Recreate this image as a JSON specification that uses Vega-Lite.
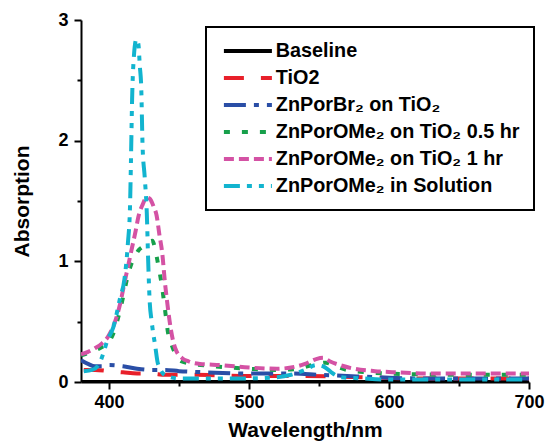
{
  "$schema": "https://vega.github.io/schema/vega-lite/v6.json",
  "width": 448,
  "height": 362,
  "autosize": {"type": "none"},
  "padding": {"left": 81, "top": 20, "right": 17, "bottom": 66},
  "background": "white",
  "config": {
    "font": "Liberation Sans",
    "view": {"stroke": null},
    "axis": {
      "domainColor": "black",
      "domainWidth": 2,
      "tickColor": "black",
      "tickWidth": 2,
      "labelFont": "Liberation Sans",
      "labelFontWeight": "bold",
      "labelFontSize": 18,
      "labelColor": "black",
      "titleFont": "Liberation Sans",
      "titleFontWeight": "bold",
      "titleFontSize": 21,
      "titleColor": "black",
      "grid": false
    }
  },
  "data": {
    "values": [
      {"s": "Baseline", "x": 380, "y": 0},
      {"s": "Baseline", "x": 700, "y": 0},

      {"s": "TiO2", "x": 382, "y": 0.10},
      {"s": "TiO2", "x": 390, "y": 0.10},
      {"s": "TiO2", "x": 400, "y": 0.09},
      {"s": "TiO2", "x": 410, "y": 0.08},
      {"s": "TiO2", "x": 420, "y": 0.07},
      {"s": "TiO2", "x": 430, "y": 0.07},
      {"s": "TiO2", "x": 440, "y": 0.06},
      {"s": "TiO2", "x": 460, "y": 0.06},
      {"s": "TiO2", "x": 500, "y": 0.05},
      {"s": "TiO2", "x": 540, "y": 0.05},
      {"s": "TiO2", "x": 580, "y": 0.04},
      {"s": "TiO2", "x": 620, "y": 0.03},
      {"s": "TiO2", "x": 660, "y": 0.03},
      {"s": "TiO2", "x": 700, "y": 0.03},

      {"s": "ZnPorBr₂ on TiO₂", "x": 380, "y": 0.18},
      {"s": "ZnPorBr₂ on TiO₂", "x": 385, "y": 0.15},
      {"s": "ZnPorBr₂ on TiO₂", "x": 390, "y": 0.13},
      {"s": "ZnPorBr₂ on TiO₂", "x": 395, "y": 0.13},
      {"s": "ZnPorBr₂ on TiO₂", "x": 400, "y": 0.14},
      {"s": "ZnPorBr₂ on TiO₂", "x": 410, "y": 0.13},
      {"s": "ZnPorBr₂ on TiO₂", "x": 420, "y": 0.11},
      {"s": "ZnPorBr₂ on TiO₂", "x": 430, "y": 0.10},
      {"s": "ZnPorBr₂ on TiO₂", "x": 440, "y": 0.10},
      {"s": "ZnPorBr₂ on TiO₂", "x": 450, "y": 0.09},
      {"s": "ZnPorBr₂ on TiO₂", "x": 470, "y": 0.08},
      {"s": "ZnPorBr₂ on TiO₂", "x": 500, "y": 0.07},
      {"s": "ZnPorBr₂ on TiO₂", "x": 530, "y": 0.07},
      {"s": "ZnPorBr₂ on TiO₂", "x": 550, "y": 0.06},
      {"s": "ZnPorBr₂ on TiO₂", "x": 570, "y": 0.05},
      {"s": "ZnPorBr₂ on TiO₂", "x": 590, "y": 0.04},
      {"s": "ZnPorBr₂ on TiO₂", "x": 620, "y": 0.03},
      {"s": "ZnPorBr₂ on TiO₂", "x": 660, "y": 0.03},
      {"s": "ZnPorBr₂ on TiO₂", "x": 700, "y": 0.03},

      {"s": "ZnPorOMe₂ on TiO₂ 0.5 hr", "x": 380, "y": 0.22},
      {"s": "ZnPorOMe₂ on TiO₂ 0.5 hr", "x": 385, "y": 0.24},
      {"s": "ZnPorOMe₂ on TiO₂ 0.5 hr", "x": 390, "y": 0.26},
      {"s": "ZnPorOMe₂ on TiO₂ 0.5 hr", "x": 395, "y": 0.29},
      {"s": "ZnPorOMe₂ on TiO₂ 0.5 hr", "x": 399, "y": 0.32},
      {"s": "ZnPorOMe₂ on TiO₂ 0.5 hr", "x": 403, "y": 0.40},
      {"s": "ZnPorOMe₂ on TiO₂ 0.5 hr", "x": 406, "y": 0.51},
      {"s": "ZnPorOMe₂ on TiO₂ 0.5 hr", "x": 410, "y": 0.70},
      {"s": "ZnPorOMe₂ on TiO₂ 0.5 hr", "x": 413, "y": 0.86},
      {"s": "ZnPorOMe₂ on TiO₂ 0.5 hr", "x": 416, "y": 0.98},
      {"s": "ZnPorOMe₂ on TiO₂ 0.5 hr", "x": 419, "y": 1.05},
      {"s": "ZnPorOMe₂ on TiO₂ 0.5 hr", "x": 421, "y": 1.09},
      {"s": "ZnPorOMe₂ on TiO₂ 0.5 hr", "x": 424, "y": 1.12},
      {"s": "ZnPorOMe₂ on TiO₂ 0.5 hr", "x": 428, "y": 1.16},
      {"s": "ZnPorOMe₂ on TiO₂ 0.5 hr", "x": 431, "y": 1.17},
      {"s": "ZnPorOMe₂ on TiO₂ 0.5 hr", "x": 433, "y": 1.10},
      {"s": "ZnPorOMe₂ on TiO₂ 0.5 hr", "x": 435, "y": 0.98},
      {"s": "ZnPorOMe₂ on TiO₂ 0.5 hr", "x": 438, "y": 0.78},
      {"s": "ZnPorOMe₂ on TiO₂ 0.5 hr", "x": 440, "y": 0.60},
      {"s": "ZnPorOMe₂ on TiO₂ 0.5 hr", "x": 442, "y": 0.42},
      {"s": "ZnPorOMe₂ on TiO₂ 0.5 hr", "x": 445, "y": 0.30},
      {"s": "ZnPorOMe₂ on TiO₂ 0.5 hr", "x": 448, "y": 0.22},
      {"s": "ZnPorOMe₂ on TiO₂ 0.5 hr", "x": 452, "y": 0.17},
      {"s": "ZnPorOMe₂ on TiO₂ 0.5 hr", "x": 460, "y": 0.15},
      {"s": "ZnPorOMe₂ on TiO₂ 0.5 hr", "x": 475, "y": 0.13},
      {"s": "ZnPorOMe₂ on TiO₂ 0.5 hr", "x": 500, "y": 0.11},
      {"s": "ZnPorOMe₂ on TiO₂ 0.5 hr", "x": 520, "y": 0.10},
      {"s": "ZnPorOMe₂ on TiO₂ 0.5 hr", "x": 535, "y": 0.11},
      {"s": "ZnPorOMe₂ on TiO₂ 0.5 hr", "x": 545, "y": 0.14},
      {"s": "ZnPorOMe₂ on TiO₂ 0.5 hr", "x": 555, "y": 0.16},
      {"s": "ZnPorOMe₂ on TiO₂ 0.5 hr", "x": 562, "y": 0.13},
      {"s": "ZnPorOMe₂ on TiO₂ 0.5 hr", "x": 570, "y": 0.10},
      {"s": "ZnPorOMe₂ on TiO₂ 0.5 hr", "x": 585, "y": 0.08},
      {"s": "ZnPorOMe₂ on TiO₂ 0.5 hr", "x": 600, "y": 0.07},
      {"s": "ZnPorOMe₂ on TiO₂ 0.5 hr", "x": 650, "y": 0.06},
      {"s": "ZnPorOMe₂ on TiO₂ 0.5 hr", "x": 700, "y": 0.06},

      {"s": "ZnPorOMe₂ on TiO₂ 1 hr", "x": 380, "y": 0.23},
      {"s": "ZnPorOMe₂ on TiO₂ 1 hr", "x": 385, "y": 0.25},
      {"s": "ZnPorOMe₂ on TiO₂ 1 hr", "x": 390, "y": 0.28},
      {"s": "ZnPorOMe₂ on TiO₂ 1 hr", "x": 395, "y": 0.32},
      {"s": "ZnPorOMe₂ on TiO₂ 1 hr", "x": 399, "y": 0.37},
      {"s": "ZnPorOMe₂ on TiO₂ 1 hr", "x": 404, "y": 0.49},
      {"s": "ZnPorOMe₂ on TiO₂ 1 hr", "x": 408, "y": 0.65},
      {"s": "ZnPorOMe₂ on TiO₂ 1 hr", "x": 411, "y": 0.82},
      {"s": "ZnPorOMe₂ on TiO₂ 1 hr", "x": 414, "y": 0.98},
      {"s": "ZnPorOMe₂ on TiO₂ 1 hr", "x": 416, "y": 1.09},
      {"s": "ZnPorOMe₂ on TiO₂ 1 hr", "x": 419, "y": 1.25},
      {"s": "ZnPorOMe₂ on TiO₂ 1 hr", "x": 421, "y": 1.37},
      {"s": "ZnPorOMe₂ on TiO₂ 1 hr", "x": 424, "y": 1.47},
      {"s": "ZnPorOMe₂ on TiO₂ 1 hr", "x": 427, "y": 1.53},
      {"s": "ZnPorOMe₂ on TiO₂ 1 hr", "x": 429, "y": 1.52},
      {"s": "ZnPorOMe₂ on TiO₂ 1 hr", "x": 432, "y": 1.45},
      {"s": "ZnPorOMe₂ on TiO₂ 1 hr", "x": 434, "y": 1.38},
      {"s": "ZnPorOMe₂ on TiO₂ 1 hr", "x": 436, "y": 1.22},
      {"s": "ZnPorOMe₂ on TiO₂ 1 hr", "x": 438, "y": 1.07},
      {"s": "ZnPorOMe₂ on TiO₂ 1 hr", "x": 440, "y": 0.82},
      {"s": "ZnPorOMe₂ on TiO₂ 1 hr", "x": 442, "y": 0.62},
      {"s": "ZnPorOMe₂ on TiO₂ 1 hr", "x": 444, "y": 0.45},
      {"s": "ZnPorOMe₂ on TiO₂ 1 hr", "x": 446, "y": 0.33},
      {"s": "ZnPorOMe₂ on TiO₂ 1 hr", "x": 448, "y": 0.26},
      {"s": "ZnPorOMe₂ on TiO₂ 1 hr", "x": 452, "y": 0.20},
      {"s": "ZnPorOMe₂ on TiO₂ 1 hr", "x": 457, "y": 0.17},
      {"s": "ZnPorOMe₂ on TiO₂ 1 hr", "x": 465, "y": 0.15},
      {"s": "ZnPorOMe₂ on TiO₂ 1 hr", "x": 480, "y": 0.14},
      {"s": "ZnPorOMe₂ on TiO₂ 1 hr", "x": 500, "y": 0.12},
      {"s": "ZnPorOMe₂ on TiO₂ 1 hr", "x": 520, "y": 0.11},
      {"s": "ZnPorOMe₂ on TiO₂ 1 hr", "x": 530, "y": 0.12},
      {"s": "ZnPorOMe₂ on TiO₂ 1 hr", "x": 540, "y": 0.15},
      {"s": "ZnPorOMe₂ on TiO₂ 1 hr", "x": 548, "y": 0.19},
      {"s": "ZnPorOMe₂ on TiO₂ 1 hr", "x": 553, "y": 0.20},
      {"s": "ZnPorOMe₂ on TiO₂ 1 hr", "x": 558, "y": 0.17},
      {"s": "ZnPorOMe₂ on TiO₂ 1 hr", "x": 565, "y": 0.14},
      {"s": "ZnPorOMe₂ on TiO₂ 1 hr", "x": 575, "y": 0.11},
      {"s": "ZnPorOMe₂ on TiO₂ 1 hr", "x": 590, "y": 0.09},
      {"s": "ZnPorOMe₂ on TiO₂ 1 hr", "x": 605, "y": 0.08},
      {"s": "ZnPorOMe₂ on TiO₂ 1 hr", "x": 630, "y": 0.07},
      {"s": "ZnPorOMe₂ on TiO₂ 1 hr", "x": 660, "y": 0.07},
      {"s": "ZnPorOMe₂ on TiO₂ 1 hr", "x": 700, "y": 0.07},

      {"s": "ZnPorOMe₂ in Solution", "x": 382, "y": 0.09},
      {"s": "ZnPorOMe₂ in Solution", "x": 388, "y": 0.10},
      {"s": "ZnPorOMe₂ in Solution", "x": 393, "y": 0.15},
      {"s": "ZnPorOMe₂ in Solution", "x": 396, "y": 0.24},
      {"s": "ZnPorOMe₂ in Solution", "x": 399, "y": 0.35},
      {"s": "ZnPorOMe₂ in Solution", "x": 403, "y": 0.45},
      {"s": "ZnPorOMe₂ in Solution", "x": 408, "y": 0.70},
      {"s": "ZnPorOMe₂ in Solution", "x": 411, "y": 0.85},
      {"s": "ZnPorOMe₂ in Solution", "x": 413.5, "y": 1.15},
      {"s": "ZnPorOMe₂ in Solution", "x": 415, "y": 1.45},
      {"s": "ZnPorOMe₂ in Solution", "x": 415.7, "y": 1.84},
      {"s": "ZnPorOMe₂ in Solution", "x": 416.5, "y": 2.34},
      {"s": "ZnPorOMe₂ in Solution", "x": 417.5, "y": 2.65},
      {"s": "ZnPorOMe₂ in Solution", "x": 419.5, "y": 2.84},
      {"s": "ZnPorOMe₂ in Solution", "x": 421, "y": 2.80},
      {"s": "ZnPorOMe₂ in Solution", "x": 422, "y": 2.62},
      {"s": "ZnPorOMe₂ in Solution", "x": 423, "y": 2.45},
      {"s": "ZnPorOMe₂ in Solution", "x": 424, "y": 1.95},
      {"s": "ZnPorOMe₂ in Solution", "x": 425.5, "y": 1.70},
      {"s": "ZnPorOMe₂ in Solution", "x": 427, "y": 1.40},
      {"s": "ZnPorOMe₂ in Solution", "x": 428, "y": 1.00},
      {"s": "ZnPorOMe₂ in Solution", "x": 429, "y": 0.68},
      {"s": "ZnPorOMe₂ in Solution", "x": 430.5, "y": 0.50},
      {"s": "ZnPorOMe₂ in Solution", "x": 433, "y": 0.30},
      {"s": "ZnPorOMe₂ in Solution", "x": 435, "y": 0.15},
      {"s": "ZnPorOMe₂ in Solution", "x": 441, "y": 0.05},
      {"s": "ZnPorOMe₂ in Solution", "x": 450, "y": 0.03},
      {"s": "ZnPorOMe₂ in Solution", "x": 470, "y": 0.03},
      {"s": "ZnPorOMe₂ in Solution", "x": 500, "y": 0.03},
      {"s": "ZnPorOMe₂ in Solution", "x": 520, "y": 0.04},
      {"s": "ZnPorOMe₂ in Solution", "x": 530, "y": 0.06},
      {"s": "ZnPorOMe₂ in Solution", "x": 540, "y": 0.10},
      {"s": "ZnPorOMe₂ in Solution", "x": 548, "y": 0.14},
      {"s": "ZnPorOMe₂ in Solution", "x": 553, "y": 0.13},
      {"s": "ZnPorOMe₂ in Solution", "x": 560, "y": 0.07},
      {"s": "ZnPorOMe₂ in Solution", "x": 565, "y": 0.04},
      {"s": "ZnPorOMe₂ in Solution", "x": 580, "y": 0.03},
      {"s": "ZnPorOMe₂ in Solution", "x": 600, "y": 0.02},
      {"s": "ZnPorOMe₂ in Solution", "x": 650, "y": 0.02},
      {"s": "ZnPorOMe₂ in Solution", "x": 700, "y": 0.02}
    ]
  },
  "mark": {"type": "line", "strokeWidth": 4, "interpolate": "monotone", "clip": true},
  "encoding": {
    "x": {
      "field": "x", "type": "quantitative",
      "scale": {"domain": [380, 700], "nice": false, "zero": false},
      "axis": {
        "title": "Wavelength/nm",
        "values": [400, 450, 500, 550, 600, 650, 700],
        "labelExpr": "datum.value % 100 === 0 ? '' + datum.value : ''",
        "tickSize": {"condition": {"test": "datum.value % 100 === 0", "value": 7}, "value": 4},
        "labelPadding": 4,
        "titlePadding": 8,
        "labelFlush": false
      }
    },
    "y": {
      "field": "y", "type": "quantitative",
      "scale": {"domain": [0, 3], "nice": false},
      "axis": {
        "title": "Absorption",
        "values": [0, 0.5, 1, 1.5, 2, 2.5, 3],
        "labelExpr": "datum.value % 1 === 0 ? '' + datum.value : ''",
        "tickSize": {"condition": {"test": "datum.value % 1 === 0", "value": 7}, "value": 4},
        "labelPadding": 6,
        "titlePadding": 25,
        "labelFlush": false
      }
    },
    "color": {
      "field": "s", "type": "nominal",
      "scale": {
        "domain": ["Baseline", "TiO2", "ZnPorBr₂ on TiO₂", "ZnPorOMe₂ on TiO₂ 0.5 hr", "ZnPorOMe₂ on TiO₂ 1 hr", "ZnPorOMe₂ in Solution"],
        "range": ["#000000", "#e8202a", "#2a4ea6", "#17a04b", "#d452a4", "#12b4cf"]
      },
      "legend": {
        "title": null,
        "orient": "none",
        "legendX": 125,
        "legendY": 7,
        "strokeColor": "black",
        "padding": 14,
        "symbolType": "M-6,0H6",
        "symbolSize": 64,
        "symbolStrokeWidth": 4,
        "symbolOffset": 18,
        "labelFont": "Liberation Sans",
        "labelFontWeight": "bold",
        "labelFontSize": 19.8,
        "labelColor": "black",
        "labelLimit": 400,
        "labelOffset": 18,
        "rowPadding": 6,
        "encode": {"legend": {"update": {"strokeWidth": {"value": 2}}}}
      }
    },
    "strokeDash": {
      "field": "s", "type": "nominal",
      "scale": {
        "domain": ["Baseline", "TiO2", "ZnPorBr₂ on TiO₂", "ZnPorOMe₂ on TiO₂ 0.5 hr", "ZnPorOMe₂ on TiO₂ 1 hr", "ZnPorOMe₂ in Solution"],
        "range": [[1, 0], [20, 17], [22, 8, 5, 8], [6, 12], [10, 5], [16, 7, 5, 7, 5, 7]]
      },
      "legend": null
    }
  }
}
